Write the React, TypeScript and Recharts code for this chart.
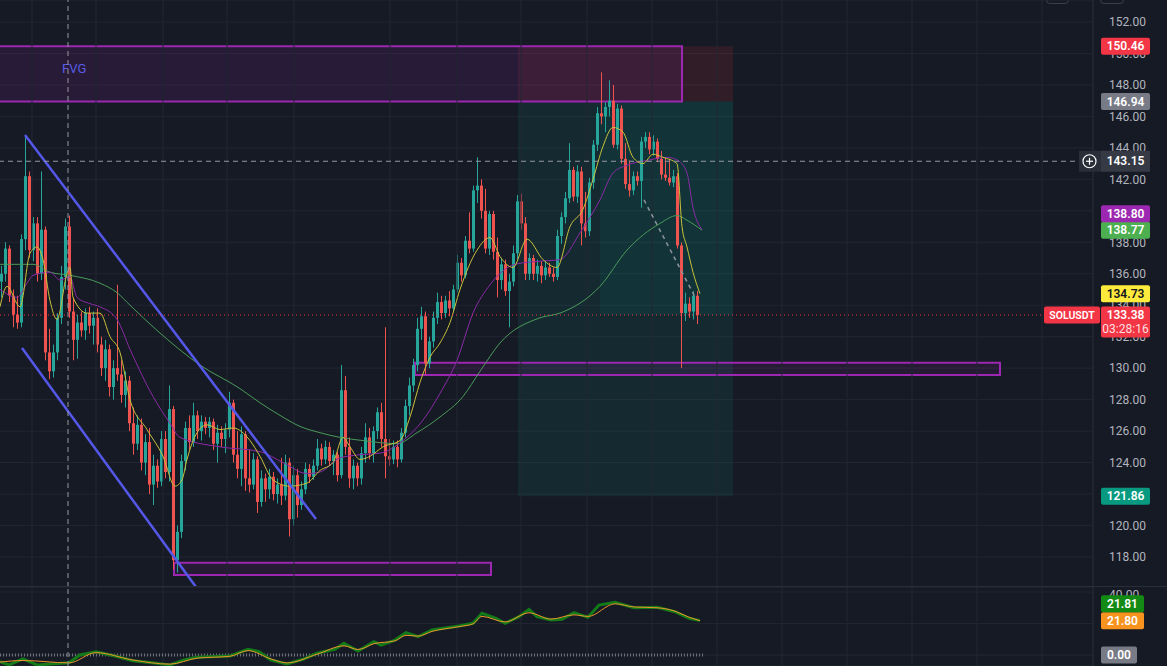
import React from 'react';
import { ComposedChart, Bar, Line, XAxis, YAxis, CartesianGrid, ReferenceLine, ReferenceArea } from 'recharts';

const BG = '#161a25';
const GRID = '#232632';
const UP = '#26a69a';
const DOWN = '#ef5350';
const AXIS_TEXT = '#b2b5be';

// price scale ticks (right axis)
const priceTicks = [118, 120, 122, 124, 126, 128, 130, 132, 134, 136, 138, 140, 142, 144, 146, 148, 150, 152];
const oscTicks = [0, 20, 40];
const priceDomain = [116.093, 153.398];
const oscDomain = [-6.98, 43.17];
const timeDomain = [-0.5, 272.75];

// time grid, as candle index
const gridIdx = [7.5, 23.5, 40.25, 56.25, 73, 97, 113.75, 129.75, 146.25, 162.5, 178.75, 195, 211.25, 227.5, 243.75, 260];

// [open, high, low, close]
const candles: number[][] = [
  [135.5, 136.5, 134.5, 136.0], [136.0, 138.0, 135.5, 137.6], [137.6, 137.8, 134.2, 134.6], [134.6, 135.0, 132.6, 133.4],
  [133.4, 134.6, 132.5, 132.9], [132.9, 138.5, 132.6, 138.2], [138.2, 144.8, 137.5, 142.2], [142.2, 142.5, 137.0, 137.5],
  [137.5, 139.6, 136.8, 139.2], [139.2, 139.6, 135.5, 136.0], [136.0, 142.5, 135.6, 138.8], [138.8, 139.0, 130.5, 131.0],
  [131.0, 132.5, 129.3, 129.8], [129.8, 131.5, 129.4, 131.0], [131.0, 133.5, 130.5, 133.2], [133.2, 136.5, 132.8, 135.8],
  [135.8, 139.5, 135.0, 139.0], [139.0, 139.7, 133.2, 133.6], [133.6, 134.5, 130.5, 131.8], [131.8, 133.4, 130.6, 132.9],
  [132.9, 133.6, 132.0, 132.4], [132.4, 133.8, 131.8, 133.5], [133.5, 133.9, 132.2, 132.7], [132.7, 133.6, 131.5, 133.2],
  [133.2, 133.8, 131.0, 131.5], [131.5, 132.0, 129.5, 130.0], [130.0, 131.8, 129.2, 131.2], [131.2, 131.5, 128.2, 128.8],
  [128.8, 130.5, 128.0, 130.0], [130.0, 135.3, 129.2, 129.6], [129.6, 130.5, 127.8, 128.3], [128.3, 129.8, 127.5, 129.2],
  [129.2, 129.5, 126.0, 126.5], [126.5, 127.5, 124.5, 125.2], [125.2, 127.0, 124.8, 126.4], [126.4, 126.8, 123.5, 124.0],
  [124.0, 125.8, 123.2, 125.3], [125.3, 126.2, 122.0, 122.6], [122.6, 124.5, 121.3, 123.8], [123.8, 124.2, 122.4, 122.8],
  [122.8, 126.0, 122.5, 125.5], [125.5, 126.0, 123.0, 123.4], [123.4, 128.9, 122.8, 127.4], [127.4, 127.6, 117.2, 117.8],
  [117.8, 120.0, 117.0, 119.6], [119.6, 124.5, 119.2, 124.1], [124.1, 126.6, 123.5, 126.2], [126.2, 127.0, 124.8, 125.3],
  [125.3, 127.8, 125.0, 127.0], [127.0, 127.3, 125.5, 126.0], [126.0, 127.0, 125.4, 126.6], [126.6, 126.9, 125.8, 126.2],
  [126.2, 126.9, 125.6, 126.6], [126.6, 126.8, 124.8, 125.2], [125.2, 126.4, 124.0, 125.9], [125.9, 126.3, 125.0, 125.5],
  [125.5, 126.5, 124.6, 126.1], [126.1, 128.5, 125.6, 127.8], [127.8, 128.0, 124.0, 124.5], [124.5, 126.0, 123.0, 123.6],
  [123.6, 126.3, 122.5, 125.8], [125.8, 126.0, 122.2, 123.0], [123.0, 124.8, 122.1, 122.6], [122.6, 124.6, 122.3, 124.2],
  [124.2, 124.4, 120.8, 121.5], [121.5, 123.5, 121.2, 123.0], [123.0, 123.3, 121.5, 122.3], [122.3, 123.6, 121.7, 123.1],
  [123.1, 123.4, 121.6, 122.0], [122.0, 123.0, 121.4, 122.6], [122.6, 124.3, 121.3, 121.9], [121.9, 124.5, 121.6, 124.0],
  [124.0, 124.3, 119.3, 120.4], [120.4, 123.8, 120.0, 123.2], [123.2, 123.6, 120.5, 121.3], [121.3, 122.8, 121.0, 122.3],
  [122.3, 124.0, 122.0, 123.6], [123.6, 123.9, 122.7, 123.1], [123.1, 124.2, 122.9, 123.8], [123.8, 125.5, 123.5, 124.9],
  [124.9, 125.2, 123.8, 124.2], [124.2, 125.4, 123.9, 125.0], [125.0, 125.3, 123.8, 124.1], [124.1, 124.8, 123.2, 124.5],
  [124.5, 124.7, 122.8, 123.2], [123.2, 130.2, 123.0, 128.6], [128.6, 129.5, 124.5, 125.0], [125.0, 125.6, 122.4, 123.0],
  [123.0, 124.2, 122.3, 123.8], [123.8, 124.0, 122.5, 123.0], [123.0, 125.0, 122.6, 124.6], [124.6, 126.5, 124.0, 125.6],
  [125.6, 126.2, 124.2, 124.6], [124.6, 126.3, 124.0, 126.0], [126.0, 127.5, 125.5, 127.2], [127.2, 127.8, 125.0, 125.5],
  [125.5, 132.6, 123.0, 124.4], [124.4, 125.5, 123.8, 124.2], [124.2, 125.4, 123.9, 125.0], [125.0, 125.4, 123.7, 124.2],
  [124.2, 126.2, 124.0, 125.9], [125.9, 128.0, 125.6, 127.6], [127.6, 129.4, 127.0, 128.9], [128.9, 130.6, 128.5, 130.2],
  [130.2, 133.2, 129.8, 132.5], [132.5, 133.9, 131.8, 133.3], [133.3, 133.6, 129.6, 130.3], [130.3, 132.0, 130.0, 131.7],
  [131.7, 133.6, 131.3, 133.2], [133.2, 134.8, 132.8, 134.2], [134.2, 134.6, 133.1, 133.5], [133.5, 134.6, 133.2, 134.3],
  [134.3, 134.9, 133.3, 133.8], [133.8, 135.3, 133.6, 135.0], [135.0, 137.2, 134.8, 136.7], [136.7, 137.0, 135.5, 135.9],
  [135.9, 138.4, 135.7, 138.1], [138.1, 139.9, 137.3, 137.6], [137.6, 141.6, 137.4, 141.3], [141.3, 143.4, 140.5, 141.6],
  [141.6, 142.0, 139.5, 140.0], [140.0, 141.4, 137.3, 137.6], [137.6, 140.0, 137.2, 139.8], [139.8, 140.0, 136.9, 137.4],
  [137.4, 138.3, 134.5, 135.6], [135.6, 137.0, 135.0, 136.6], [136.6, 136.9, 134.6, 134.9], [134.9, 136.0, 132.6, 135.5],
  [135.5, 137.8, 135.2, 137.3], [137.3, 141.0, 136.9, 140.6], [140.6, 141.1, 138.8, 139.2], [139.2, 139.6, 135.6, 136.0],
  [136.0, 137.3, 135.6, 137.0], [137.0, 137.2, 135.6, 136.0], [136.0, 136.9, 135.5, 136.5], [136.5, 136.8, 135.4, 135.9],
  [135.9, 136.8, 135.6, 136.4], [136.4, 136.7, 135.8, 136.0], [136.0, 136.4, 135.5, 135.8], [135.8, 138.8, 135.6, 138.4],
  [138.4, 139.9, 137.9, 139.6], [139.6, 141.2, 139.2, 140.8], [140.8, 144.3, 140.5, 142.6], [142.6, 142.8, 140.6, 140.9],
  [140.9, 142.9, 140.5, 142.5], [142.5, 142.8, 137.8, 139.2], [139.2, 141.2, 138.3, 138.7], [138.7, 142.1, 138.4, 141.8],
  [141.8, 144.5, 141.4, 144.2], [144.2, 146.6, 143.8, 146.2], [146.2, 148.8, 145.5, 146.0], [146.0, 146.9, 145.0, 146.6],
  [146.6, 148.3, 146.0, 147.0], [147.0, 148.0, 144.0, 144.2], [144.2, 146.8, 143.9, 146.5], [146.5, 146.7, 143.0, 143.3],
  [143.3, 144.3, 141.4, 141.7], [141.7, 143.2, 140.9, 141.3], [141.3, 142.5, 141.0, 142.2], [142.2, 142.5, 141.6, 141.9],
  [141.9, 144.7, 140.2, 144.4], [144.4, 145.0, 144.0, 144.7], [144.7, 145.0, 143.6, 143.9], [143.9, 144.8, 143.5, 144.4],
  [144.4, 144.6, 143.1, 143.3], [143.3, 143.8, 142.0, 142.3], [142.3, 143.4, 141.9, 142.1], [142.1, 143.3, 141.6, 141.8],
  [141.8, 142.6, 141.5, 142.2], [142.2, 142.4, 137.6, 137.8], [137.8, 138.0, 130.0, 133.5], [133.5, 134.8, 133.0, 134.1],
  [134.1, 134.5, 133.2, 133.6], [133.6, 134.9, 133.1, 134.6], [134.6, 134.9, 132.8, 133.38],
];

// moving averages, [candle index, value]
const yellowMa = [
  [-0.5, 133.9], [1.25, 135.2], [4.5, 133.9], [7, 137.3], [8.75, 137.7], [10.25, 136.9], [12, 134.3], [13.75, 133.1],
  [16.25, 136.0], [17, 136.4], [17.75, 134.5], [21.25, 133.5], [24.5, 133.5], [27, 132.0], [29.5, 131.0], [32, 128.0],
  [36.25, 126.1], [40.25, 124.4], [43.25, 122.5], [45, 122.9], [46.25, 124.2], [48.75, 125.9], [51.25, 126.4], [54.5, 126.1],
  [57.75, 126.2], [62, 125.4], [64.5, 124.4], [67.75, 122.9], [72, 122.5], [76.25, 122.7], [79.5, 123.5], [82.75, 124.0],
  [85.25, 125.6], [87, 125.0], [89.5, 124.2], [92, 124.4], [95.25, 125.0], [99.5, 125.4], [102, 126.9], [104.5, 129.1],
  [107, 130.7], [109.5, 131.6], [112, 132.9], [114.5, 135.0], [118.75, 137.5], [122, 138.3], [124.5, 137.1], [127.75, 136.4],
  [131.25, 138.2], [135.25, 136.9], [138.75, 136.4], [142, 139.0], [145.25, 140.1], [147.75, 142.0], [150.25, 144.1],
  [152.75, 145.3], [155.25, 145.0], [157.75, 143.4], [160.25, 143.0], [162.75, 143.6], [165.25, 143.4], [168.75, 143.0],
  [170, 139.0], [171.25, 137.7], [172.75, 136.1], [174.5, 134.73],
];
const purpleMa = [
  [-0.5, 135.0], [3.75, 134.5], [6.25, 135.4], [7.75, 135.9], [12, 136.1], [14.5, 135.6], [17, 135.8], [18.75, 134.5],
  [22, 134.1], [24.5, 133.9], [28.75, 133.1], [32, 131.2], [37.75, 128.2], [42, 126.5], [44.5, 125.6], [54.5, 125.0],
  [64.5, 124.7], [70.25, 124.0], [76.25, 123.3], [79.5, 123.4], [84.5, 124.3], [89.5, 124.5], [94.5, 124.6], [100.25, 125.4],
  [105.25, 126.7], [109.5, 128.4], [113.75, 130.5], [117.75, 133.5], [122, 135.3], [128.25, 136.6], [134.5, 136.8],
  [139.5, 136.9], [144.5, 138.6], [149.5, 140.7], [152.75, 142.4], [156.25, 142.9], [161.25, 143.2], [166.25, 143.4],
  [169, 143.2], [171.25, 142.4], [172.75, 140.2], [175, 138.8],
];
const greenMa = [
  [-0.5, 136.6], [7.75, 136.6], [12, 136.1], [17, 135.9], [24.5, 135.4], [28.75, 134.8], [32, 134.0], [38.75, 132.4],
  [49.5, 130.2], [59.5, 128.7], [64.5, 127.8], [69.5, 127.0], [74.5, 126.3], [79.5, 125.9], [84.5, 125.6], [90.25, 125.4],
  [98.75, 125.2], [103.75, 125.9], [109.5, 126.9], [115.25, 128.2], [119.5, 129.8], [124.5, 131.6], [134.5, 133.2],
  [139.5, 133.5], [149.5, 135.2], [156.25, 137.5], [164.5, 139.2], [168.75, 139.7], [171.25, 139.4], [175, 138.77],
];

// lower pane oscillator
const oscMain = [
  [-0.5, -4.2], [1.75, -6.3], [5.25, -2.5], [8.75, -6.3], [16.75, -4.9], [19.5, 0], [23.5, 2.1], [28.25, -0.6],
  [32.75, -3.6], [37.5, -4.9], [42, -6.3], [45.5, -3.2], [48.75, -1.5], [57, -0.6], [61.5, 3.6], [64.25, 2.1],
  [67.25, -3.2], [71.25, -5.7], [75.25, -2.7], [78.75, 1.1], [83.25, 3.6], [85.5, 7.4], [89, 2.5], [93, 8.5],
  [94.75, 6.3], [98.25, 9.5], [101, 14.2], [104, 11.6], [107.5, 15.9], [114.25, 18.4], [117.75, 20.1], [120, 26.5],
  [123.5, 23.3], [125.75, 20.1], [129.25, 24.3], [131.75, 29.0], [133.75, 24.3], [137.25, 22.2], [140, 22.7], [143, 26.9],
  [146.5, 23.9], [149.25, 31.7], [153.25, 33.5], [158, 30.0], [163.75, 30.3], [168.25, 27.5], [171.75, 23.3], [174.5, 21.81],
];
const oscSignal = [
  [-0.5, -4.5], [5.25, -3.5], [16.75, -5.0], [23.5, 1.5], [32.75, -3.2], [42, -5.8], [48.75, -2.0], [57, -0.8],
  [61.5, 2.8], [67.25, -2.5], [71.25, -5.0], [78.75, 0.5], [85.5, 5.8], [89, 3.5], [93, 7.2], [98.25, 9.0],
  [101, 12.5], [104, 12.0], [107.5, 15.0], [114.25, 18.0], [117.75, 19.8], [120, 24.5], [125.75, 21.0], [131.75, 26.8],
  [137.25, 22.8], [143, 25.5], [146.5, 24.5], [153.25, 32.5], [158, 30.5], [163.75, 30.0], [168.25, 27.8], [171.75, 24.0],
  [174.5, 21.8],
];

const rows = candles.map((c, i) => ({ i, o: c[0], h: c[1], l: c[2], c: c[3], range: [c[2], c[1]] }));
const pts = (a: number[][]) => a.map(([i, v]) => ({ i, v }));

function Candle(props: any) {
  const { x, width, payload } = props;
  let { y, height } = props;
  if (height < 0) { y += height; height = -height; }
  const { o, h, l, c } = payload;
  const color = c >= o ? UP : DOWN;
  const k = height / (h - l || 1);
  const yo = y + (h - o) * k;
  const yc = y + (h - c) * k;
  const top = Math.min(yo, yc);
  const bh = Math.max(1, Math.abs(yo - yc));
  const bx = Math.round(x + width / 2 - 1.5);
  return (
    <g>
      <line x1={bx + 1.5} x2={bx + 1.5} y1={y} y2={y + height} stroke={color} strokeWidth={1} />
      <rect x={bx} y={top} width={3} height={bh} fill={color} />
    </g>
  );
}

function Tag(props: any) {
  const { viewBox, text, bg, color = '#ffffff', dy = 0, w = 49, sub, side, icon } = props;
  if (!viewBox) return null;
  const x0 = viewBox.x + viewBox.width + 8;
  const cy = viewBox.y + dy;
  const h = sub ? 31 : 17;
  return (
    <g style={{ fontFamily: 'Roboto, "Noto Sans", sans-serif' }}>
      {side && (
        <g>
          <rect x={x0 - 57} y={cy - 8.5} width={56} height={17} rx={2} fill={bg} />
          <text x={x0 - 29} y={cy + 4} textAnchor="middle" fontSize={10.5} fontWeight={600} fill="#ffffff">{side}</text>
        </g>
      )}
      {icon && (
        <g>
          <rect x={x0 - 22} y={cy - 10.5} width={22} height={21} fill="#2a2e39" />
          <circle cx={x0 - 11.5} cy={cy} r={6.5} fill="none" stroke="#ffffff" strokeWidth={1.2} />
          <line x1={x0 - 15} x2={x0 - 8} y1={cy} y2={cy} stroke="#ffffff" strokeWidth={1.2} />
          <line x1={x0 - 11.5} x2={x0 - 11.5} y1={cy - 3.5} y2={cy + 3.5} stroke="#ffffff" strokeWidth={1.2} />
        </g>
      )}
      <rect x={x0} y={icon ? cy - 10.5 : cy - 8.5} width={w} height={icon ? 21 : h} rx={icon ? 0 : 2} fill={bg} />
      <text x={x0 + w / 2} y={cy + 4.2} textAnchor="middle" fontSize={12} fontWeight={600} fill={color}>{text}</text>
      {sub && (
        <text x={x0 + w / 2} y={cy + 18} textAnchor="middle" fontSize={12} fill="rgba(255,255,255,0.85)">{sub}</text>
      )}
    </g>
  );
}

function FvgText(props: any) {
  const { viewBox } = props;
  if (!viewBox) return null;
  return (
    <text x={viewBox.x + 64} y={viewBox.y + 27} fontSize={13} fill="#5a5ce6" style={{ fontFamily: 'Roboto, sans-serif' }}>FVG</text>
  );
}

const axisProps = {
  orientation: 'right' as const,
  width: 74,
  allowDataOverflow: true,
  tickFormatter: (v: number) => v.toFixed(2),
  tickLine: false,
  tickSize: 0,
  tickMargin: 16,
  axisLine: { stroke: '#2a2e39' },
  tick: { fill: AXIS_TEXT, fontSize: 12 },
};

export default function App() {
  return (
    <div style={{ position: 'fixed', left: 0, top: 0, width: 1167, height: 666, background: BG, overflow: 'hidden', fontFamily: 'Roboto, "Noto Sans", sans-serif' }}>
      <div style={{ position: 'absolute', left: 1046, top: -20, width: 21, height: 22, border: '1px solid #3a3e4a', borderRadius: 4 }} />
      <div style={{ position: 'absolute', left: 1100, top: -20, width: 22, height: 22, border: '1px solid #3a3e4a', borderRadius: 4 }} />

      {/* main price pane */}
      <div style={{ position: 'absolute', left: 0, top: 0 }}>
        <ComposedChart width={1167} height={587} data={rows} margin={{ top: 0, right: 0, bottom: 0, left: 0 }}>
          <CartesianGrid vertical={false} stroke={GRID} />
          <XAxis dataKey="i" type="number" domain={timeDomain} hide allowDataOverflow />
          <YAxis {...axisProps} domain={priceDomain} ticks={priceTicks} />
          {gridIdx.map((t) => (
            <ReferenceLine key={t} x={t} stroke={GRID} />
          ))}

          {/* position tool */}
          <ReferenceArea x1={129} x2={182.75} y1={146.94} y2={150.46} fill="rgba(242,54,69,0.24)" stroke="none" />
          <ReferenceArea x1={129} x2={182.75} y1={121.86} y2={146.94} fill="rgba(8,153,129,0.24)" stroke="none" />
          <ReferenceArea x1={149.5} x2={182.75} y1={133.38} y2={146.94} fill="rgba(8,153,129,0.2)" stroke="none" />

          {/* boxes */}
          <ReferenceArea x1={-1} x2={170} y1={146.94} y2={150.46} fill="rgba(156,39,176,0.26)" stroke="#9c27b0" strokeWidth={2} ifOverflow="visible" label={<FvgText />} />
          <ReferenceArea x1={103.25} x2={249.5} y1={129.57} y2={130.35} fill="rgba(156,39,176,0.24)" stroke="#9c27b0" strokeWidth={2} />
          <ReferenceArea x1={43} x2={122.25} y1={116.86} y2={117.64} fill="rgba(156,39,176,0.24)" stroke="#9c27b0" strokeWidth={2} />

          <Line data={pts(greenMa)} dataKey="v" type="monotone" stroke="#4a9a5a" strokeWidth={1} dot={false} isAnimationActive={false} />
          <Line data={pts(purpleMa)} dataKey="v" type="monotone" stroke="#8a2aa6" strokeWidth={1} dot={false} isAnimationActive={false} />
          <Line data={pts(yellowMa)} dataKey="v" type="monotone" stroke="#c9c23a" strokeWidth={1} dot={false} isAnimationActive={false} />

          <Bar dataKey="range" barSize={3} shape={<Candle />} isAnimationActive={false} />

          {/* channel */}
          <ReferenceLine segment={[{ x: 5.75, y: 144.82 }, { x: 78.5, y: 120.41 }]} stroke="#5457e8" strokeWidth={2.5} ifOverflow="visible" />
          <ReferenceLine segment={[{ x: 5, y: 131.28 }, { x: 48.5, y: 116.09 }]} stroke="#5457e8" strokeWidth={2.5} ifOverflow="visible" />
          <ReferenceLine segment={[{ x: 160.5, y: 140.69 }, { x: 173.25, y: 134.53 }]} stroke="#8f939d" strokeWidth={1.5} strokeDasharray="4 4" />

          {/* crosshair + last price line */}
          <ReferenceLine x={16.5} stroke="#9598a1" strokeDasharray="5 4" />
          <ReferenceLine y={133.38} stroke="#f23645" strokeDasharray="1 3" />
          <ReferenceLine y={143.15} stroke="#9598a1" strokeDasharray="5 4" />
        </ComposedChart>
      </div>

      {/* price tags drawn above the axis labels */}
      <div style={{ position: 'absolute', left: 0, top: 0 }}>
        <ComposedChart width={1167} height={587} data={rows} margin={{ top: 0, right: 74, bottom: 0, left: 0 }}>
          <XAxis dataKey="i" type="number" domain={timeDomain} hide allowDataOverflow />
          <YAxis domain={priceDomain} hide allowDataOverflow width={0} />
          <ReferenceLine y={150.46} stroke="none" label={<Tag text="150.46" bg="#f23645" />} />
          <ReferenceLine y={146.94} stroke="none" label={<Tag text="146.94" bg="#787b86" />} />
          <ReferenceLine y={143.15} stroke="none" label={<Tag text="143.15" bg="#363a45" icon />} />
          <ReferenceLine y={138.77} stroke="none" label={<Tag text="138.77" bg="#4caf50" />} />
          <ReferenceLine y={138.80} stroke="none" label={<Tag text="138.80" bg="#9c27b0" dy={-16} />} />
          <ReferenceLine y={134.73} stroke="none" label={<Tag text="134.73" bg="#ffeb3b" color="#131722" />} />
          <ReferenceLine y={133.38} stroke="none" label={<Tag text="133.38" bg="#f23645" sub="03:28:16" side="SOLUSDT" />} />
          <ReferenceLine y={121.86} stroke="none" label={<Tag text="121.86" bg="#089981" />} />
        </ComposedChart>
      </div>

      <div style={{ position: 'absolute', left: 0, top: 586, width: 1167, height: 1, background: '#2a2e39' }} />

      {/* oscillator pane */}
      <div style={{ position: 'absolute', left: 0, top: 587 }}>
        <ComposedChart width={1167} height={79} data={rows} margin={{ top: 0, right: 0, bottom: 0, left: 0 }}>
          <CartesianGrid vertical={false} stroke={GRID} />
          <XAxis dataKey="i" type="number" domain={timeDomain} hide allowDataOverflow />
          <YAxis {...axisProps} domain={oscDomain} ticks={oscTicks} />
          {gridIdx.map((t) => (
            <ReferenceLine key={t} x={t} stroke={GRID} />
          ))}
          <ReferenceLine segment={[{ x: -0.5, y: 0 }, { x: 175.5, y: 0 }]} stroke="#6f727c" strokeWidth={3} strokeDasharray="1 2" />
          <Line data={pts(oscMain)} dataKey="v" type="linear" stroke="#127a18" strokeWidth={3} dot={false} isAnimationActive={false} />
          <Line data={pts(oscSignal)} dataKey="v" type="monotone" stroke="#f0922e" strokeWidth={1} dot={false} isAnimationActive={false} />
          <ReferenceLine x={16.5} stroke="#9598a1" strokeDasharray="5 4" />
        </ComposedChart>
      </div>
      <div style={{ position: 'absolute', left: 0, top: 587 }}>
        <ComposedChart width={1167} height={79} data={rows} margin={{ top: 0, right: 74, bottom: 0, left: 0 }}>
          <XAxis dataKey="i" type="number" domain={timeDomain} hide allowDataOverflow />
          <YAxis domain={oscDomain} hide allowDataOverflow width={0} />
          <ReferenceLine y={21.80} stroke="none" label={<Tag text="21.80" bg="#f7931e" w={43} />} />
          <ReferenceLine y={21.81} stroke="none" label={<Tag text="21.81" bg="#138a13" w={43} dy={-17} />} />
          <ReferenceLine y={0} stroke="none" label={<Tag text="0.00" bg="#787b86" w={36} />} />
        </ComposedChart>
      </div>
    </div>
  );
}
